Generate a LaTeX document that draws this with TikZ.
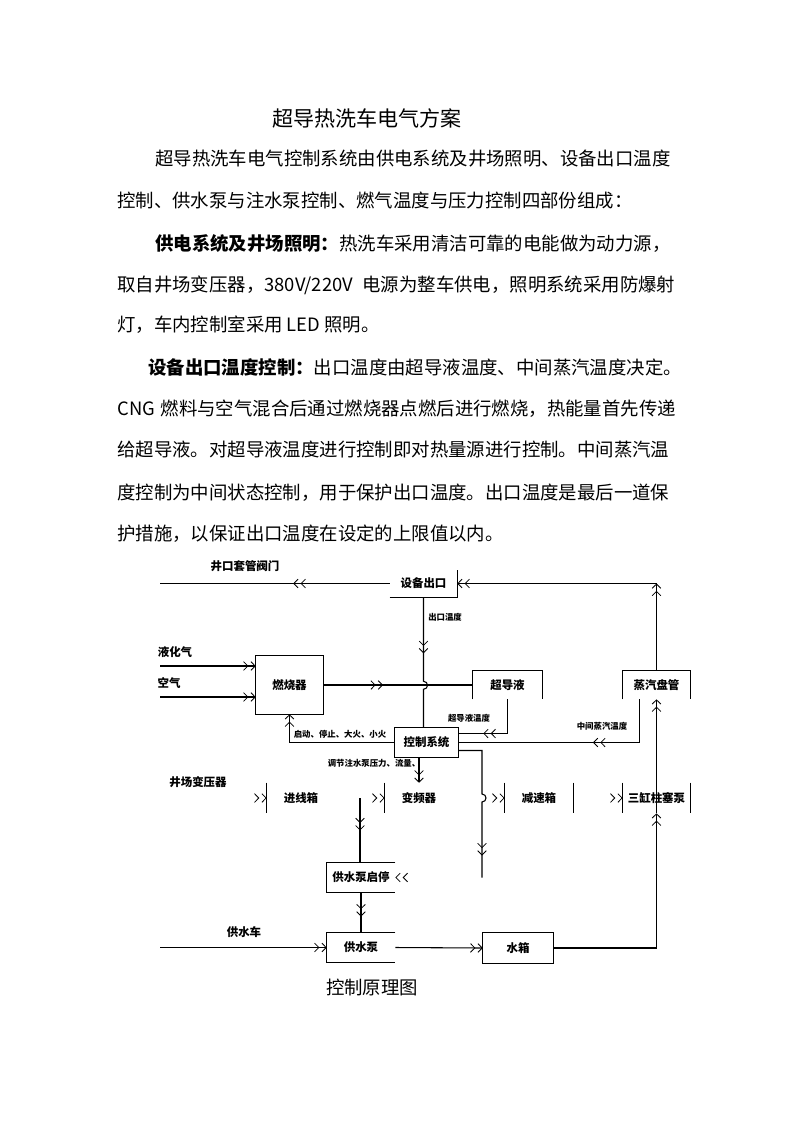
\documentclass[tikz,border=0pt]{standalone}
\usepackage{fontspec}
\setmainfont{Noto Sans CJK SC}
\usetikzlibrary{arrows.meta,decorations.markings,calc}
\XeTeXlinebreaklocale "zh"
\XeTeXlinebreakskip=0pt plus 1pt minus 0.2pt
\newcommand\bodyfont{\fontsize{13.8pt}{16pt}\selectfont}
\newcommand\titlefont{\fontsize{15.8pt}{18pt}\selectfont}
\newcommand\boxfont{\fontsize{8.6pt}{10pt}\selectfont\bfseries}
\newcommand\smlfont{\fontsize{6.3pt}{7pt}\selectfont\bfseries}
\newcommand\jline[2]{\makebox[#1][s]{#2}}
\tikzset{
  mytip/.tip={Straight Barb[length=3.2pt,width=6.5pt,line width=0.6pt,sep=1.6pt] Straight Barb[length=3.2pt,width=6.5pt,line width=0.6pt]},
  ln/.style={line width=0.8pt},
  tipend/.style={ln,-{mytip}},
  midtip/.style={ln,postaction={decorate},decoration={markings,mark=at position #1 with {\arrow{mytip}}}},
  tiponly/.style={line width=0.8pt,postaction={decorate},decoration={markings,mark=at position 0.999 with {\arrow{mytip}}}},
  body/.style={inner sep=0pt,font=\bodyfont},
  bx/.style 2 args={inner sep=0pt,minimum width=#1*0.75pt,minimum height=#2*0.75pt,font=\boxfont},
  lbl/.style={inner sep=0pt,font=\boxfont},
  sml/.style={inner sep=0pt,font=\smlfont}
}
\begin{document}
\begin{tikzpicture}[x=0.75pt,y=-0.75pt]
\fill[white] (0,0) rectangle (793,1122);
\useasboundingbox (0,0) rectangle (793,1122);

% ---------- text ----------
\node[inner sep=0pt,font=\titlefont] (title) at (367,118) {超导热洗车电气方案};
\node[body,anchor=west] (p1) at (155,159) {\jline{390pt}{超导热洗车电气控制系统由供电系统及井场照明、设备出口温度}};
\node[body,anchor=west] (p2) at (117,201) {控制、供水泵与注水泵控制、燃气温度与压力控制四部份组成：};
\node[body,anchor=west] (p3) at (155,243) {\jline{390pt}{{\bfseries 供电系统及井场照明：}热洗车采用清洁可靠的电能做为动力源，}};
\node[body,anchor=west] (p4) at (117,285) {\jline{418.5pt}{取自井场变压器，380V/220V 电源为整车供电，照明系统采用防爆射}};
\node[body,anchor=west] (p5) at (117,325) {灯，车内控制室采用 LED 照明。};
\node[body,anchor=west] (p6) at (148,367) {\jline{396pt}{{\bfseries 设备出口温度控制：}出口温度由超导液温度、中间蒸汽温度决定。}};
\node[body,anchor=west] (p7) at (117,409) {\jline{419pt}{CNG 燃料与空气混合后通过燃烧器点燃后进行燃烧，热能量首先传递}};
\node[body,anchor=west] (p8) at (117,450) {\jline{419pt}{给超导液。对超导液温度进行控制即对热量源进行控制。中间蒸汽温}};
\node[body,anchor=west] (p9) at (117,493) {\jline{419pt}{度控制为中间状态控制，用于保护出口温度。出口温度是最后一道保}};
\node[body,anchor=west] (p10) at (117,534) {护措施，以保证出口温度在设定的上限值以内。};
\node[body] (cap) at (372,987) {控制原理图};

% ---------- boxes ----------
\node[bx={67}{27}] (sb) at (423.5,583.5) {设备出口};
\node[bx={67}{58}] (rs) at (289.5,685) {燃烧器};
\node[bx={69}{28}] (cd) at (507.5,685) {超导液};
\node[bx={67}{28}] (zq) at (656.5,685) {蒸汽盘管};
\node[bx={63}{29}] (kz) at (426.5,742.5) {控制系统};
\node[bx={68}{30}] (jx) at (301,798) {进线箱};
\node[bx={68}{30}] (bp) at (419,798) {变频器};
\node[bx={68}{30}] (js) at (539,798) {减速箱};
\node[bx={67}{30}] (sg) at (656.5,798) {三缸柱塞泵};
\node[bx={68}{29}] (qt) at (361,877.5) {供水泵启停};
\node[bx={68}{29}] (gs) at (361,947.5) {供水泵};
\node[bx={70}{30}] (sx) at (518,948) {水箱};

\draw[ln] (sb.south west) -- (sb.south east) -- (sb.north east);
\draw[ln] (rs.south west) rectangle (rs.north east);
\draw[ln] (cd.south west) -- (cd.north west) -- (cd.north east) -- (cd.south east);
\draw[ln] (zq.south west) -- (zq.north west) -- (zq.north east) -- (zq.south east);
\draw[ln] (kz.south west) rectangle (kz.north east);
\draw[ln] (jx.north west) -- (jx.south west);
\draw[ln] (bp.north west) -- (bp.south west);
\draw[ln] (js.north west) -- (js.south west) (js.north east) -- (js.south east);
\draw[ln] (sg.north west) -- (sg.south west) (sg.north east) -- (sg.south east);
\draw[ln] (qt.north east) -- (qt.north west) -- (qt.south west) -- (qt.south east);
\draw[ln] (gs.north east) -- (gs.north west) -- (gs.south west) -- (gs.south east);
\draw[ln] (sx.south west) rectangle (sx.north east);

% ---------- free labels ----------
\node[lbl] (l1) at (245,566) {井口套管阀门};
\node[sml,anchor=west] (l2) at (428,617) {出口温度};
\node[lbl] (l3) at (175,652) {液化气};
\node[lbl] (l4) at (169,683) {空气};
\node[sml] (l5) at (469,718) {超导液温度};
\node[sml] (l6) at (602,726) {中间蒸汽温度};
\node[sml] (l7) at (340,734) {启动、停止、大火、小火};
\node[sml] (l8) at (374,763) {调节注水泵压力、流量、};
\node[lbl] (jyb) at (198,782) {井场变压器};
\node[lbl] (l10) at (244,932) {供水车};

% ---------- free ends ----------
\coordinate (c1) at (160,583.5);
\coordinate (c3) at (160,666);
\coordinate (c4) at (160,697);
\coordinate (c5) at (482,877.5);
\coordinate (c6) at (160,947.5);
\coordinate (j1) at ($(jx.east)!0.5!(bp.west)$);

% ---------- connectors ----------
\draw[midtip=0.42] (sb.west) -- (c1);
\draw[tipend] (zq.north) -- (zq.north |- sb.east);
\draw[tipend] (zq.north |- sb.east) -- (sb.east);
\draw[midtip=42pt] (sb.south) -- ++(0,84) to[out=0,in=0,looseness=1.7] ++(0,8) -- (sb.south |- kz.north);
\draw[tipend] (c3) -- (c3 -| rs.west);
\draw[tipend] (c4) -- (c4 -| rs.west);
\draw[midtip=0.4] (rs.east) -- (cd.west);
\draw[tipend] (kz.west) -| (rs.south);
\draw[midtip=0.7] (cd.south) |- ($(kz.east)+(0,-9)$);
\draw[midtip=0.4] ($(zq.south)+(-17,0)$) |- (kz.east);
\draw[midtip=100pt] ($(kz.east)+(0,8)$) -- (482,750.5) -- (482,794) to[out=0,in=0,looseness=1.7] (482,802) -- (c5);
\path[tiponly] (c5) -- (qt.east);
\path[tiponly] (jyb.east |- jx.west) -- (jx.west);
\path[tiponly] (jx.east) -- (bp.west);
\draw[midtip=0.5] (j1) -- (j1 |- qt.north);
\path[tiponly] (bp.east) -- (js.west);
\path[tiponly] (js.east) -- (sg.west);
\draw[tipend] (bp.north |- kz.south) -- (bp.north);
\draw[tipend] (sx.east) -| (sg.south);
\draw[tipend] (sg.south) -- (zq.south);
\draw[midtip=0.6] (qt.south) -- (gs.north);
\draw[tipend] (c6) -- (gs.west);
\draw[tipend] (gs.east) -- (sx.west);
\end{tikzpicture}
\end{document}
